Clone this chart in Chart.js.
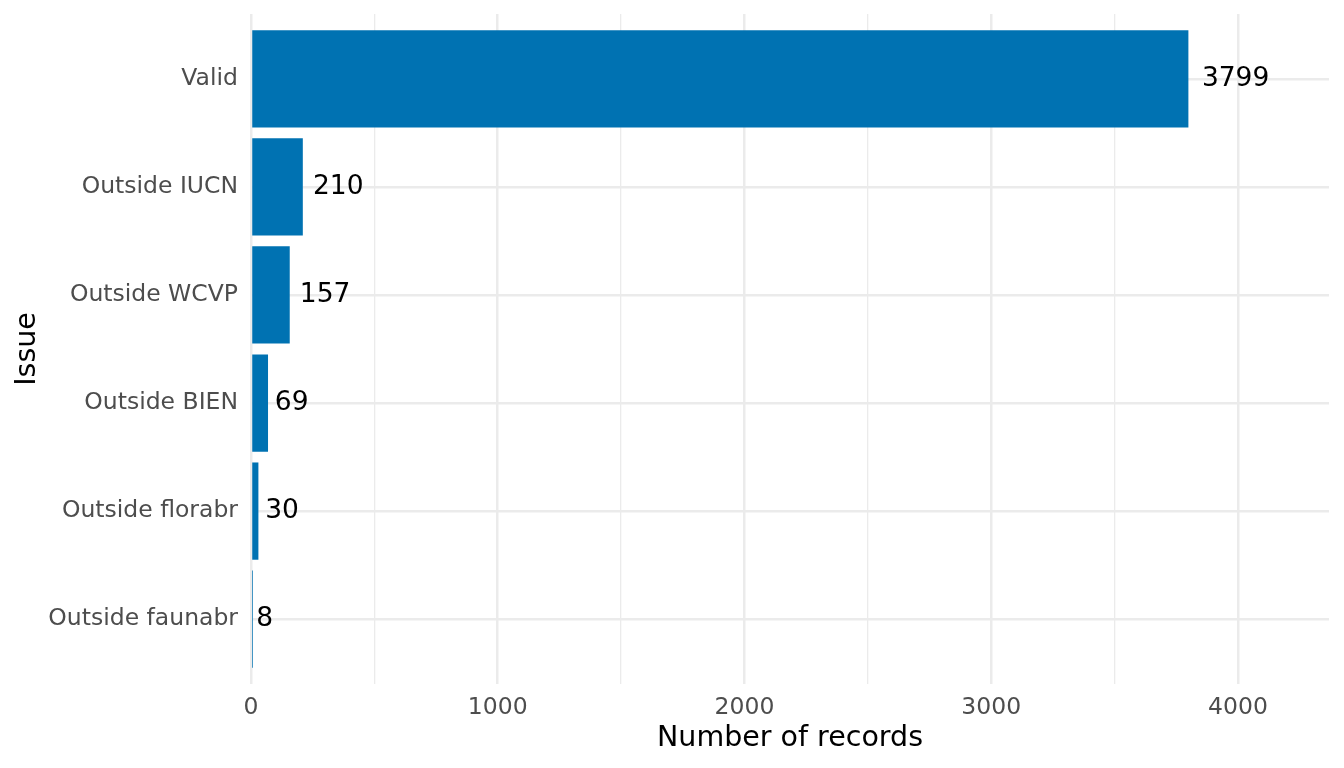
<!DOCTYPE html>
<html>
<head>
<meta charset="utf-8">
<script src="https://cdn.jsdelivr.net/npm/chart.js@4/dist/chart.umd.min.js"></script>
<style>
  html, body { margin: 0; padding: 0; background: #fff; }
  #wrap { width: 1344px; height: 768px; }
</style>
</head>
<body>
<div id="wrap"><canvas id="issue-chart" width="1344" height="768"></canvas></div>
<script>
// Categories, top to bottom
let categories = ['Valid', 'Outside IUCN', 'Outside WCVP', 'Outside BIEN', 'Outside florabr', 'Outside faunabr'];

// Number of records per issue
let records = [3799, 210, 157, 69, 30, 8];

// X tick labels (major) and the minor grid positions between them
let xTicks = [0, 1000, 2000, 3000, 4000];
let xGrid = [0, 500, 1000, 1500, 2000, 2500, 3000, 3500, 4000];

let n = categories.length;
let xMax = Math.max(...records) * 1.15;

let ctx = document.getElementById('issue-chart').getContext('2d');

// Value labels at the end of each bar
let valueLabels = {
    id: 'valueLabels',
    afterDatasetsDraw(chart) {
        let c = chart.ctx;
        let meta = chart.getDatasetMeta(0);
        c.save();
        c.font = '26.5px "DejaVu Sans"';
        c.fillStyle = '#000000';
        c.textAlign = 'left';
        c.textBaseline = 'middle';
        meta.data.forEach((bar, i) => {
            let txt = String(records[i]);
            let w = c.measureText(txt).width;
            c.fillText(txt, bar.x + 0.2 * w, bar.y);
        });
        c.restore();
    }
};

let chartData = {
    datasets: [{
        data: records.map((v, i) => ({ x: v, y: n - i })),
        backgroundColor: '#0072B2',
        borderWidth: 0,
        inflateAmount: 0,
        barPercentage: 0.9,
        categoryPercentage: 1
    }]
};

let chartOptions = {
    indexAxis: 'y',
    responsive: false,
    animation: false,
    layout: {
        padding: { top: 14, right: 15, left: 0, bottom: 0 }
    },
    scales: {
        x: {
            type: 'linear',
            min: 0,
            max: xMax,
            border: { display: false },
            grid: {
                color: '#EBEBEB',
                drawTicks: false,
                lineWidth: (c) => (xTicks.includes(c.tick.value) ? 2.5 : 1.3)
            },
            ticks: {
                padding: 10,
                color: '#4D4D4D',
                font: { family: 'DejaVu Sans', size: 23.5 },
                maxRotation: 0,
                autoSkip: false,
                callback: (v) => (xTicks.includes(v) ? String(v) : '')
            },
            afterBuildTicks: (scale) => { scale.ticks = xGrid.map((v) => ({ value: v })); },
            title: {
                display: true,
                text: 'Number of records',
                color: '#000000',
                font: { family: 'DejaVu Sans', size: 28.5 },
                padding: { top: 0, bottom: 12 }
            },
            afterFit: (scale) => {
                scale.height = 84;
                scale.paddingLeft = 0;
                scale.paddingRight = 0;
            }
        },
        y: {
            type: 'linear',
            min: 0.4,
            max: n + 0.6,
            offset: false,
            border: { display: false },
            grid: {
                color: '#EBEBEB',
                lineWidth: 2.5,
                drawTicks: false,
                offset: false
            },
            ticks: {
                padding: 13,
                color: '#4D4D4D',
                font: { family: 'DejaVu Sans', size: 23.5 },
                autoSkip: false,
                callback: (v) => categories[n - v]
            },
            afterBuildTicks: (scale) => { scale.ticks = categories.map((c, i) => ({ value: n - i })); },
            title: {
                display: true,
                text: 'Issue',
                color: '#000000',
                font: { family: 'DejaVu Sans', size: 28.5 },
                padding: { top: 10, bottom: 0 }
            },
            afterFit: (scale) => {
                scale.width = 251;
                scale.paddingTop = 0;
                scale.paddingBottom = 0;
            }
        }
    },
    plugins: {
        legend: { display: false },
        tooltip: { enabled: false }
    }
};

let issueChart = new Chart(ctx, {
    type: 'bar',
    data: chartData,
    options: chartOptions,
    plugins: [valueLabels]
});
</script>
</body>
</html>
